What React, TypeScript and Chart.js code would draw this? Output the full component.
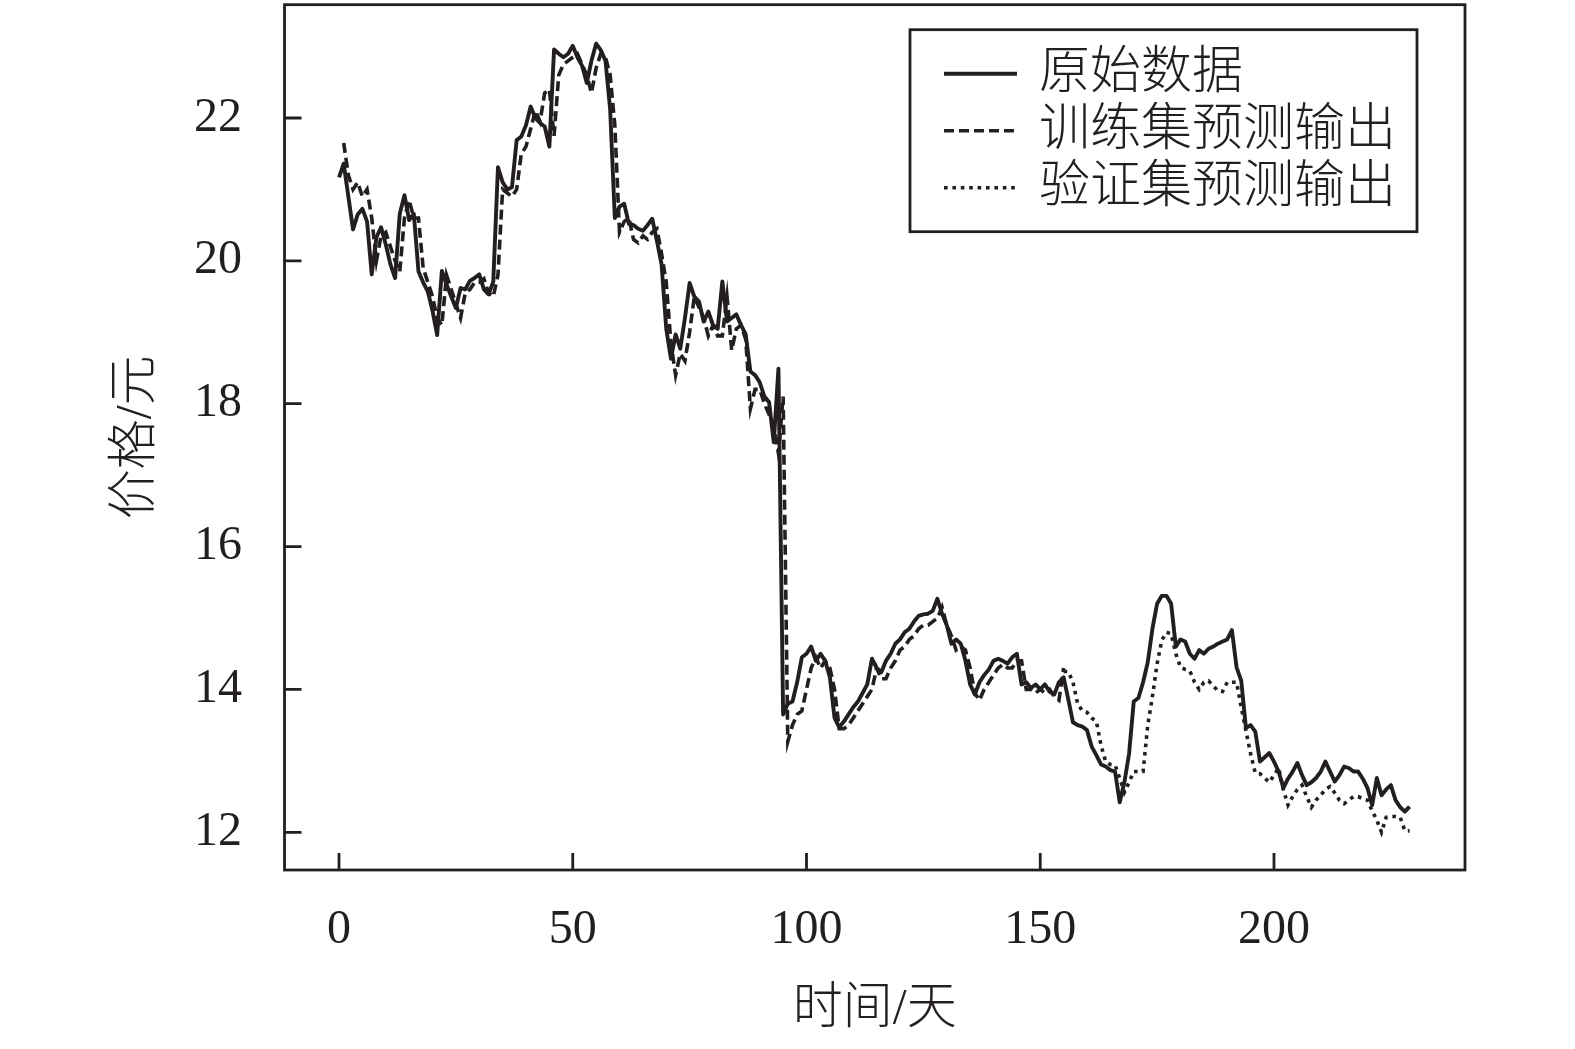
import React, { useEffect, useRef } from "react";
import { Chart, registerables } from "chart.js";

Chart.register(...registerables);

// ---------------- data ----------------
const originalStartDay = 0;
const originalPrices = [
  21.17, 21.36, 20.9, 20.44, 20.65, 20.73, 20.55, 19.81, 20.33, 20.47,
  20.23, 19.95, 19.76, 20.66, 20.92, 20.57, 20.66, 19.85, 19.7, 19.57,
  19.3, 18.96, 19.86, 19.67, 19.5, 19.34, 19.62, 19.6, 19.72, 19.76,
  19.81, 19.6, 19.53, 19.71, 21.31, 21.1, 21.0, 21.03, 21.69, 21.74,
  21.9, 22.16, 22.0, 21.93, 21.88, 21.6, 22.96, 22.9, 22.85, 22.9,
  23.01, 22.85, 22.73, 22.49, 22.8, 23.04, 22.95, 22.8, 22.12, 20.6,
  20.76, 20.8, 20.52, 20.5, 20.45, 20.42, 20.5, 20.59, 20.28, 19.95,
  19.05, 18.63, 18.97, 18.77, 19.2, 19.69, 19.5, 19.43, 19.15, 19.29,
  19.1, 19.05, 19.71, 19.15, 19.2, 19.25, 19.1, 18.97, 18.45, 18.4,
  18.3, 18.1, 18.02, 17.46, 18.49, 13.65, 13.8, 13.83, 14.1, 14.45,
  14.5, 14.6, 14.4, 14.5, 14.4, 14.17, 13.6, 13.47, 13.55, 13.65,
  13.75, 13.83, 13.95, 14.07, 14.43, 14.3, 14.24, 14.4, 14.5, 14.64,
  14.7, 14.8, 14.85, 14.95, 15.03, 15.05, 15.06, 15.1, 15.27, 15.06,
  14.9, 14.64, 14.7, 14.64, 14.4, 14.07, 13.93, 14.1, 14.2, 14.28,
  14.4, 14.43, 14.4, 14.36, 14.45, 14.5, 14.07, 14.1, 14.02, 14.07,
  14.0, 14.07, 13.97, 13.93, 14.1, 14.17, 13.86, 13.54, 13.5, 13.48,
  13.43, 13.2, 13.08, 12.95, 12.92, 12.87, 12.85, 12.42, 12.7, 13.1,
  13.83, 13.88, 14.1, 14.38, 14.85, 15.2, 15.31, 15.31, 15.2, 14.6,
  14.7, 14.67, 14.5, 14.43, 14.55, 14.5, 14.57, 14.6, 14.64, 14.67,
  14.7, 14.83, 14.31, 14.12, 13.46, 13.5, 13.41, 12.99, 13.05, 13.11,
  12.99, 12.85, 12.62, 12.75, 12.85, 12.97, 12.8, 12.66, 12.7, 12.76,
  12.85, 12.99, 12.85, 12.71, 12.8, 12.92, 12.9, 12.85, 12.85, 12.75,
  12.62, 12.38, 12.76, 12.52, 12.6, 12.66, 12.45, 12.35, 12.29, 12.36,
];

const trainStartDay = 1;
const trainPredictions = [
  21.65, 21.2, 21.0, 21.1, 20.9, 21.0, 20.6, 20.0, 20.35, 20.4,
  20.2, 20.0, 19.85, 20.6, 20.85, 20.6, 20.6, 19.9, 19.7, 19.5,
  19.2, 19.1, 19.8, 19.6, 19.4, 19.2, 19.55, 19.6, 19.7, 19.7,
  19.75, 19.55, 19.5, 19.8, 21.0, 20.95, 20.9, 21.0, 21.5, 21.6,
  21.85, 22.1, 21.95, 22.35, 22.4, 21.75, 22.6, 22.75, 22.8, 22.85,
  22.9, 22.75, 22.6, 22.35, 22.7, 22.9, 22.85, 22.6, 21.9, 20.4,
  20.55, 20.6, 20.3, 20.25, 20.35, 20.3, 20.4, 20.45, 20.1, 19.7,
  18.85, 18.4, 18.7, 18.6, 19.0, 19.5, 19.35, 19.2, 18.95, 19.1,
  18.95, 18.95, 19.5, 18.75, 19.05, 19.1, 18.9, 17.93, 18.2, 18.2,
  18.0, 17.85, 17.7, 17.3, 18.1, 13.27, 13.5, 13.65, 13.7, 14.0,
  14.3, 14.45, 14.3, 14.4, 14.3, 14.0, 13.45, 13.45, 13.5, 13.6,
  13.7, 13.8, 13.9, 14.0, 14.3, 14.15, 14.15, 14.3, 14.4, 14.55,
  14.6, 14.7, 14.75, 14.85, 14.9, 14.9, 14.95, 15.0, 15.15, 14.9,
  14.75, 14.55, 14.6, 14.55, 14.3, 13.95, 13.85, 14.0, 14.1, 14.2,
  14.3, 14.35, 14.3, 14.3, 14.4, 14.4, 14.0, 14.0, 13.95, 14.0,
  13.95, 14.0, 13.9, 13.85, 14.3,
];

const validStartDay = 155;
const validPredictions = [
  14.25, 14.25, 14.1, 13.8, 13.7, 13.68, 13.6, 13.55, 13.22, 12.99,
  12.95, 12.94, 12.76, 12.56, 12.7, 12.85, 12.85, 12.85, 13.5, 13.9,
  14.36, 14.69, 14.8, 14.78, 14.5, 14.31, 14.28, 14.26, 14.1, 14.0,
  14.1, 14.12, 14.05, 13.98, 13.97, 14.1, 14.1, 14.1, 13.75, 13.42,
  13.1, 12.83, 12.82, 12.76, 12.7, 12.8, 12.9, 12.6, 12.38, 12.5,
  12.6, 12.66, 12.5, 12.35, 12.45, 12.52, 12.6, 12.64, 12.55, 12.45,
  12.4, 12.45, 12.5, 12.5, 12.47, 12.45, 12.3, 12.17, 12.0, 12.21,
  12.22, 12.22, 12.21, 12.02, 12.02,
];

const xTickValues = [0, 50, 100, 150, 200];
const yTickValues = [12, 14, 16, 18, 20, 22];
const seriesLabels = ["原始数据", "训练集预测输出", "验证集预测输出"];
const xAxisTitle = "时间/天";
const yAxisTitle = "价格/元";

// ---------------- styling ----------------
const W = 1575;
const H = 1049;
const INK = "#231f20";
const NUM_FONT = '"Liberation Serif", "Times New Roman", serif';
const CJK_FONT = '"Liberation Serif", "Noto Sans CJK SC", serif';

const toPoints = (start: number, values: number[]) =>
  values.map((v, i) => ({ x: start + i, y: v }));

const framePlugin = {
  id: "frameAndLegend",
  afterDraw(chart: any) {
    const { ctx, chartArea: a, scales } = chart;
    ctx.save();
    ctx.strokeStyle = INK;
    ctx.lineWidth = 2.8;
    ctx.setLineDash([]);
    ctx.strokeRect(a.left, a.top, a.right - a.left, a.bottom - a.top);

    // inward tick marks
    const tickLen = 17;
    ctx.beginPath();
    scales.x.ticks.forEach((t: any) => {
      const px = scales.x.getPixelForValue(t.value);
      ctx.moveTo(px, a.bottom);
      ctx.lineTo(px, a.bottom - tickLen);
    });
    scales.y.ticks.forEach((t: any) => {
      const py = scales.y.getPixelForValue(t.value);
      ctx.moveTo(a.left, py);
      ctx.lineTo(a.left + tickLen, py);
    });
    ctx.stroke();

    // legend box
    const boxW = 507;
    const boxH = 202;
    const boxX = a.right - 48 - boxW;
    const boxY = a.top + 25;
    ctx.fillStyle = "#ffffff";
    ctx.fillRect(boxX, boxY, boxW, boxH);
    ctx.lineWidth = 2.8;
    ctx.strokeRect(boxX, boxY, boxW, boxH);

    const rows = [44, 101, 158];
    chart.data.datasets.forEach((ds: any, i: number) => {
      const cy = boxY + rows[i];
      ctx.beginPath();
      ctx.strokeStyle = ds.borderColor;
      ctx.lineWidth = ds.borderWidth;
      ctx.setLineDash(ds.borderDash || []);
      ctx.moveTo(boxX + 34, cy);
      ctx.lineTo(boxX + 107, cy);
      ctx.stroke();
      ctx.setLineDash([]);
      ctx.fillStyle = INK;
      ctx.font = `300 51px ${CJK_FONT}`;
      ctx.textAlign = "left";
      ctx.textBaseline = "middle";
      ctx.fillText(ds.label, boxX + 129, cy + 1);
    });
    ctx.restore();
  },
};

export default function App() {
  const canvasRef = useRef<HTMLCanvasElement | null>(null);

  useEffect(() => {
    const canvas = canvasRef.current;
    if (!canvas) return;
    const chart = new Chart(canvas, {
      type: "line",
      data: {
        datasets: [
          {
            label: seriesLabels[0],
            data: toPoints(originalStartDay, originalPrices),
            borderColor: INK,
            borderWidth: 3.9,
            borderDash: [],
            borderJoinStyle: "round",
            pointRadius: 0,
            tension: 0,
          },
          {
            label: seriesLabels[1],
            data: toPoints(trainStartDay, trainPredictions),
            borderColor: INK,
            borderWidth: 3.6,
            borderDash: [10, 5],
            pointRadius: 0,
            tension: 0,
          },
          {
            label: seriesLabels[2],
            data: toPoints(validStartDay, validPredictions),
            borderColor: INK,
            borderWidth: 3.6,
            borderDash: [3.6, 4.8],
            pointRadius: 0,
            tension: 0,
          },
        ],
      },
      options: {
        responsive: false,
        animation: false,
        devicePixelRatio: 1,
        events: [],
        layout: { padding: { left: 0, top: 4.7, right: 110, bottom: 0 } },
        plugins: {
          legend: { display: false },
          tooltip: { enabled: false },
          title: { display: false },
        },
        scales: {
          x: {
            type: "linear",
            min: -11.66,
            max: 240.86,
            grid: { display: false, drawTicks: false },
            border: { display: false },
            afterBuildTicks: (scale: any) => {
              scale.ticks = xTickValues.map((v) => ({ value: v }));
            },
            afterFit: (scale: any) => {
              scale.height = 179;
              scale.paddingLeft = 0;
              scale.paddingRight = 0;
            },
            ticks: {
              padding: 32,
              maxRotation: 0,
              autoSkip: false,
              color: INK,
              font: { family: NUM_FONT, size: 48 },
            },
            title: {
              display: true,
              text: xAxisTitle,
              color: INK,
              font: { family: CJK_FONT, size: 50, weight: "300" },
              padding: { top: 0, bottom: 9 },
            },
          },
          y: {
            type: "linear",
            min: 11.472,
            max: 23.586,
            grid: { display: false, drawTicks: false },
            border: { display: false },
            afterBuildTicks: (scale: any) => {
              scale.ticks = yTickValues.map((v) => ({ value: v }));
            },
            afterFit: (scale: any) => {
              scale.width = 284.5;
              scale.paddingTop = 0;
              scale.paddingBottom = 0;
            },
            ticks: {
              padding: 42.5,
              autoSkip: false,
              color: INK,
              font: { family: NUM_FONT, size: 48 },
            },
            title: {
              display: true,
              text: yAxisTitle,
              color: INK,
              font: { family: CJK_FONT, size: 50, weight: "300" },
              padding: { top: 107, bottom: 0 },
            },
          },
        },
      },
      plugins: [framePlugin],
    } as any);
    return () => chart.destroy();
  }, []);

  return (
    <div style={{ position: "fixed", left: 0, top: 0, width: W, height: H, background: "#fff" }}>
      <canvas ref={canvasRef} width={W} height={H} style={{ display: "block", width: W, height: H }} />
    </div>
  );
}
